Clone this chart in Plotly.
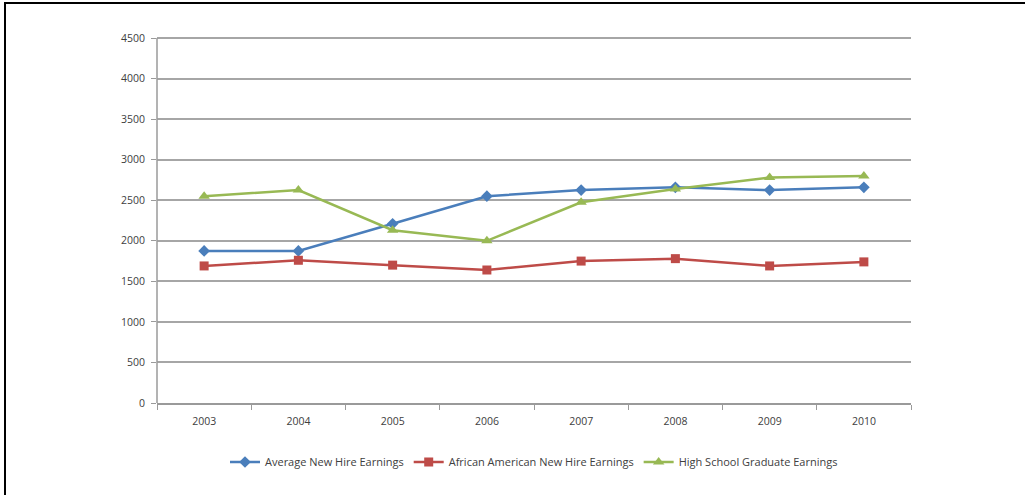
import plotly.graph_objects as go

years = ["2003", "2004", "2005", "2006", "2007", "2008", "2009", "2010"]
avg_new_hire = [1875, 1875, 2210, 2550, 2625, 2660, 2625, 2660]
african_american = [1690, 1760, 1700, 1640, 1750, 1780, 1690, 1740]
high_school = [2550, 2625, 2130, 2000, 2475, 2640, 2780, 2800]
y_ticks = [0, 500, 1000, 1500, 2000, 2500, 3000, 3500, 4000, 4500]

L, R, T, B = 157, 911, 34, 403
W, H = 1025, 495

fig = go.Figure()
fig.add_trace(go.Scatter(x=years, y=avg_new_hire, mode="lines+markers",
                         name="Average New Hire Earnings",
                         line=dict(color="#4A7EBB", width=2.5),
                         marker=dict(symbol="diamond", size=9, color="#4A7EBB")))
fig.add_trace(go.Scatter(x=years, y=african_american, mode="lines+markers",
                         name="African American New Hire Earnings",
                         line=dict(color="#BE4B48", width=2.5),
                         marker=dict(symbol="square", size=9, color="#BE4B48")))
fig.add_trace(go.Scatter(x=years, y=high_school, mode="lines+markers",
                         name="High School Graduate Earnings",
                         line=dict(color="#98B954", width=2.5),
                         marker=dict(symbol="triangle-up", size=10, color="#98B954")))

px = lambda v: (v - L) / (R - L)
py = lambda v: (B - v) / (B - T)

fig.update_layout(
    width=W, height=H,
    margin=dict(l=L, r=W - R, t=T, b=H - B, pad=0),
    paper_bgcolor="white", plot_bgcolor="white",
    font=dict(family="Open Sans, Liberation Sans, sans-serif", size=10.5, color="#404040"),
    showlegend=True,
    legend=dict(orientation="h", x=0.5, xanchor="center", y=py(462), yanchor="middle",
                font=dict(size=11), itemwidth=30, tracegroupgap=0),
    xaxis=dict(type="category", showgrid=False, showline=True, linecolor="#9a9a9a",
               linewidth=1.5, ticks="outside", tickson="boundaries", ticklen=5,
               tickcolor="#9a9a9a", range=[-0.5, 7.5], fixedrange=True,
               ticklabelstandoff=8),
    yaxis=dict(range=[0, 4550], tickvals=y_ticks, showgrid=True, gridcolor="#a6a6a6",
               gridwidth=1.5, showline=False,
               ticks="outside", ticklen=5, tickcolor="#9a9a9a", zeroline=False,
               ticklabelstandoff=4),
    shapes=[
        dict(type="line", xref="paper", yref="y", x0=0, x1=0, y0=0, y1=y_ticks[-1],
             line=dict(color="#9a9a9a", width=1.5)),
        dict(type="line", xref="paper", yref="paper", x0=px(5), x1=px(5), y0=py(3), y1=py(500),
             line=dict(color="black", width=2)),
        dict(type="line", xref="paper", yref="paper", x0=px(4), x1=px(1030), y0=py(3), y1=py(3),
             line=dict(color="black", width=2)),
    ],
)

fig.write_html("out.html")
